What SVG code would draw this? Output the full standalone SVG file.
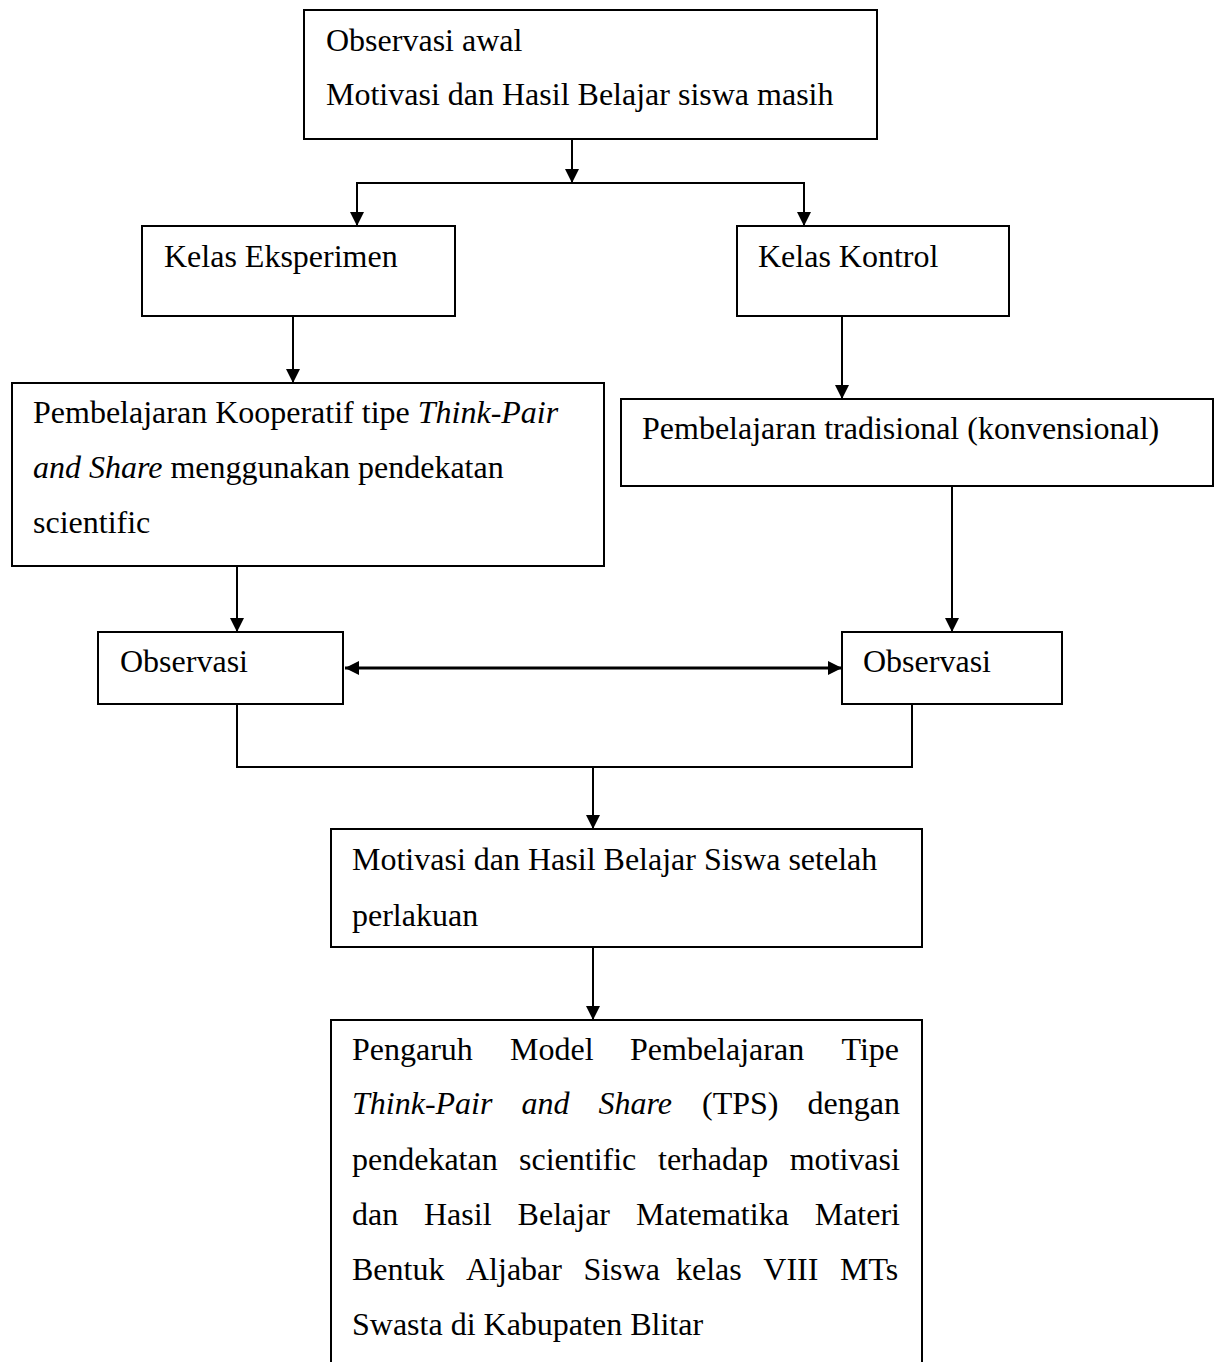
<svg xmlns="http://www.w3.org/2000/svg" width="1221" height="1362" viewBox="0 0 1221 1362">
<style>
  .box { fill: #ffffff; stroke: #000000; stroke-width: 2; }
  .t { font-family: "Liberation Serif", "Times New Roman", serif; font-size: 32px; fill: #000000; }
  .i { font-style: italic; }
  .c { fill: none; stroke: #000000; stroke-width: 2; }
  .thick { stroke-width: 3; }
</style>
<defs>
  <marker id="arr" markerUnits="userSpaceOnUse" markerWidth="14" markerHeight="14" refX="14" refY="7" orient="auto-start-reverse">
    <path d="M0,0 L14,7 L0,14 z" fill="#000000"/>
  </marker>
</defs>
<rect width="1221" height="1362" fill="#ffffff"/>

<g id="connectors">
  <line class="c" x1="572" y1="139" x2="572" y2="183" marker-end="url(#arr)"/>
  <line class="c" x1="356" y1="183" x2="805" y2="183"/>
  <line class="c" x1="357" y1="183" x2="357" y2="226" marker-end="url(#arr)"/>
  <line class="c" x1="804" y1="183" x2="804" y2="226" marker-end="url(#arr)"/>
  <line class="c" x1="293" y1="316" x2="293" y2="383" marker-end="url(#arr)"/>
  <line class="c" x1="842" y1="316" x2="842" y2="399" marker-end="url(#arr)"/>
  <line class="c" x1="237" y1="566" x2="237" y2="632" marker-end="url(#arr)"/>
  <line class="c" x1="952" y1="486" x2="952" y2="632" marker-end="url(#arr)"/>
  <line class="c thick" x1="345" y1="668" x2="842" y2="668" marker-start="url(#arr)" marker-end="url(#arr)"/>
  <polyline class="c" points="237,704 237,767 912,767 912,704"/>
  <line class="c" x1="593" y1="767" x2="593" y2="829" marker-end="url(#arr)"/>
  <line class="c" x1="593" y1="947" x2="593" y2="1020" marker-end="url(#arr)"/>
</g>

<g id="node-observasi-awal">
  <rect class="box" x="304" y="10" width="573" height="129"/>
  <text class="t" x="326" y="51">Observasi awal</text>
  <text class="t" x="326" y="105">Motivasi dan Hasil Belajar siswa masih</text>
</g>

<g id="node-kelas-eksperimen">
  <rect class="box" x="142" y="226" width="313" height="90"/>
  <text class="t" x="164" y="267">Kelas Eksperimen</text>
</g>

<g id="node-kelas-kontrol">
  <rect class="box" x="737" y="226" width="272" height="90"/>
  <text class="t" x="758" y="267">Kelas Kontrol</text>
</g>

<g id="node-kooperatif">
  <rect class="box" x="12" y="383" width="592" height="183"/>
  <text class="t" x="33" y="423">Pembelajaran Kooperatif tipe <tspan class="i">Think-Pair</tspan></text>
  <text class="t" x="33" y="478"><tspan class="i">and Share</tspan> menggunakan pendekatan</text>
  <text class="t" x="33" y="533">scientific</text>
</g>

<g id="node-tradisional">
  <rect class="box" x="621" y="399" width="592" height="87"/>
  <text class="t" x="642" y="439">Pembelajaran tradisional (konvensional)</text>
</g>

<g id="node-observasi-kiri">
  <rect class="box" x="98" y="632" width="245" height="72"/>
  <text class="t" x="120" y="672">Observasi</text>
</g>

<g id="node-observasi-kanan">
  <rect class="box" x="842" y="632" width="220" height="72"/>
  <text class="t" x="863" y="672">Observasi</text>
</g>

<g id="node-setelah">
  <rect class="box" x="331" y="829" width="591" height="118"/>
  <text class="t" x="352" y="870">Motivasi dan Hasil Belajar Siswa setelah</text>
  <text class="t" x="352" y="926">perlakuan</text>
</g>

<g id="node-pengaruh">
  <rect class="box" x="331" y="1020" width="591" height="370"/>
  <text class="t" y="1060"><tspan x="352">Pengaruh</tspan><tspan x="510">Model</tspan><tspan x="630">Pembelajaran</tspan><tspan x="841.5">Tipe</tspan></text>
  <text class="t" y="1114"><tspan x="352" class="i">Think-Pair</tspan><tspan x="521.5" class="i">and</tspan><tspan x="598.5" class="i">Share</tspan><tspan x="702">(TPS)</tspan><tspan x="807.5">dengan</tspan></text>
  <text class="t" y="1170"><tspan x="352">pendekatan</tspan><tspan x="519">scientific</tspan><tspan x="658">terhadap</tspan><tspan x="789.7">motivasi</tspan></text>
  <text class="t" y="1225"><tspan x="352">dan</tspan><tspan x="424">Hasil</tspan><tspan x="517.6">Belajar</tspan><tspan x="636">Matematika</tspan><tspan x="814.7">Materi</tspan></text>
  <text class="t" y="1280"><tspan x="352">Bentuk</tspan><tspan x="466">Aljabar</tspan><tspan x="583.4">Siswa</tspan><tspan x="676">kelas</tspan><tspan x="763.3">VIII</tspan><tspan x="840">MTs</tspan></text>
  <text class="t" x="352" y="1335">Swasta di Kabupaten Blitar</text>
</g>
</svg>
